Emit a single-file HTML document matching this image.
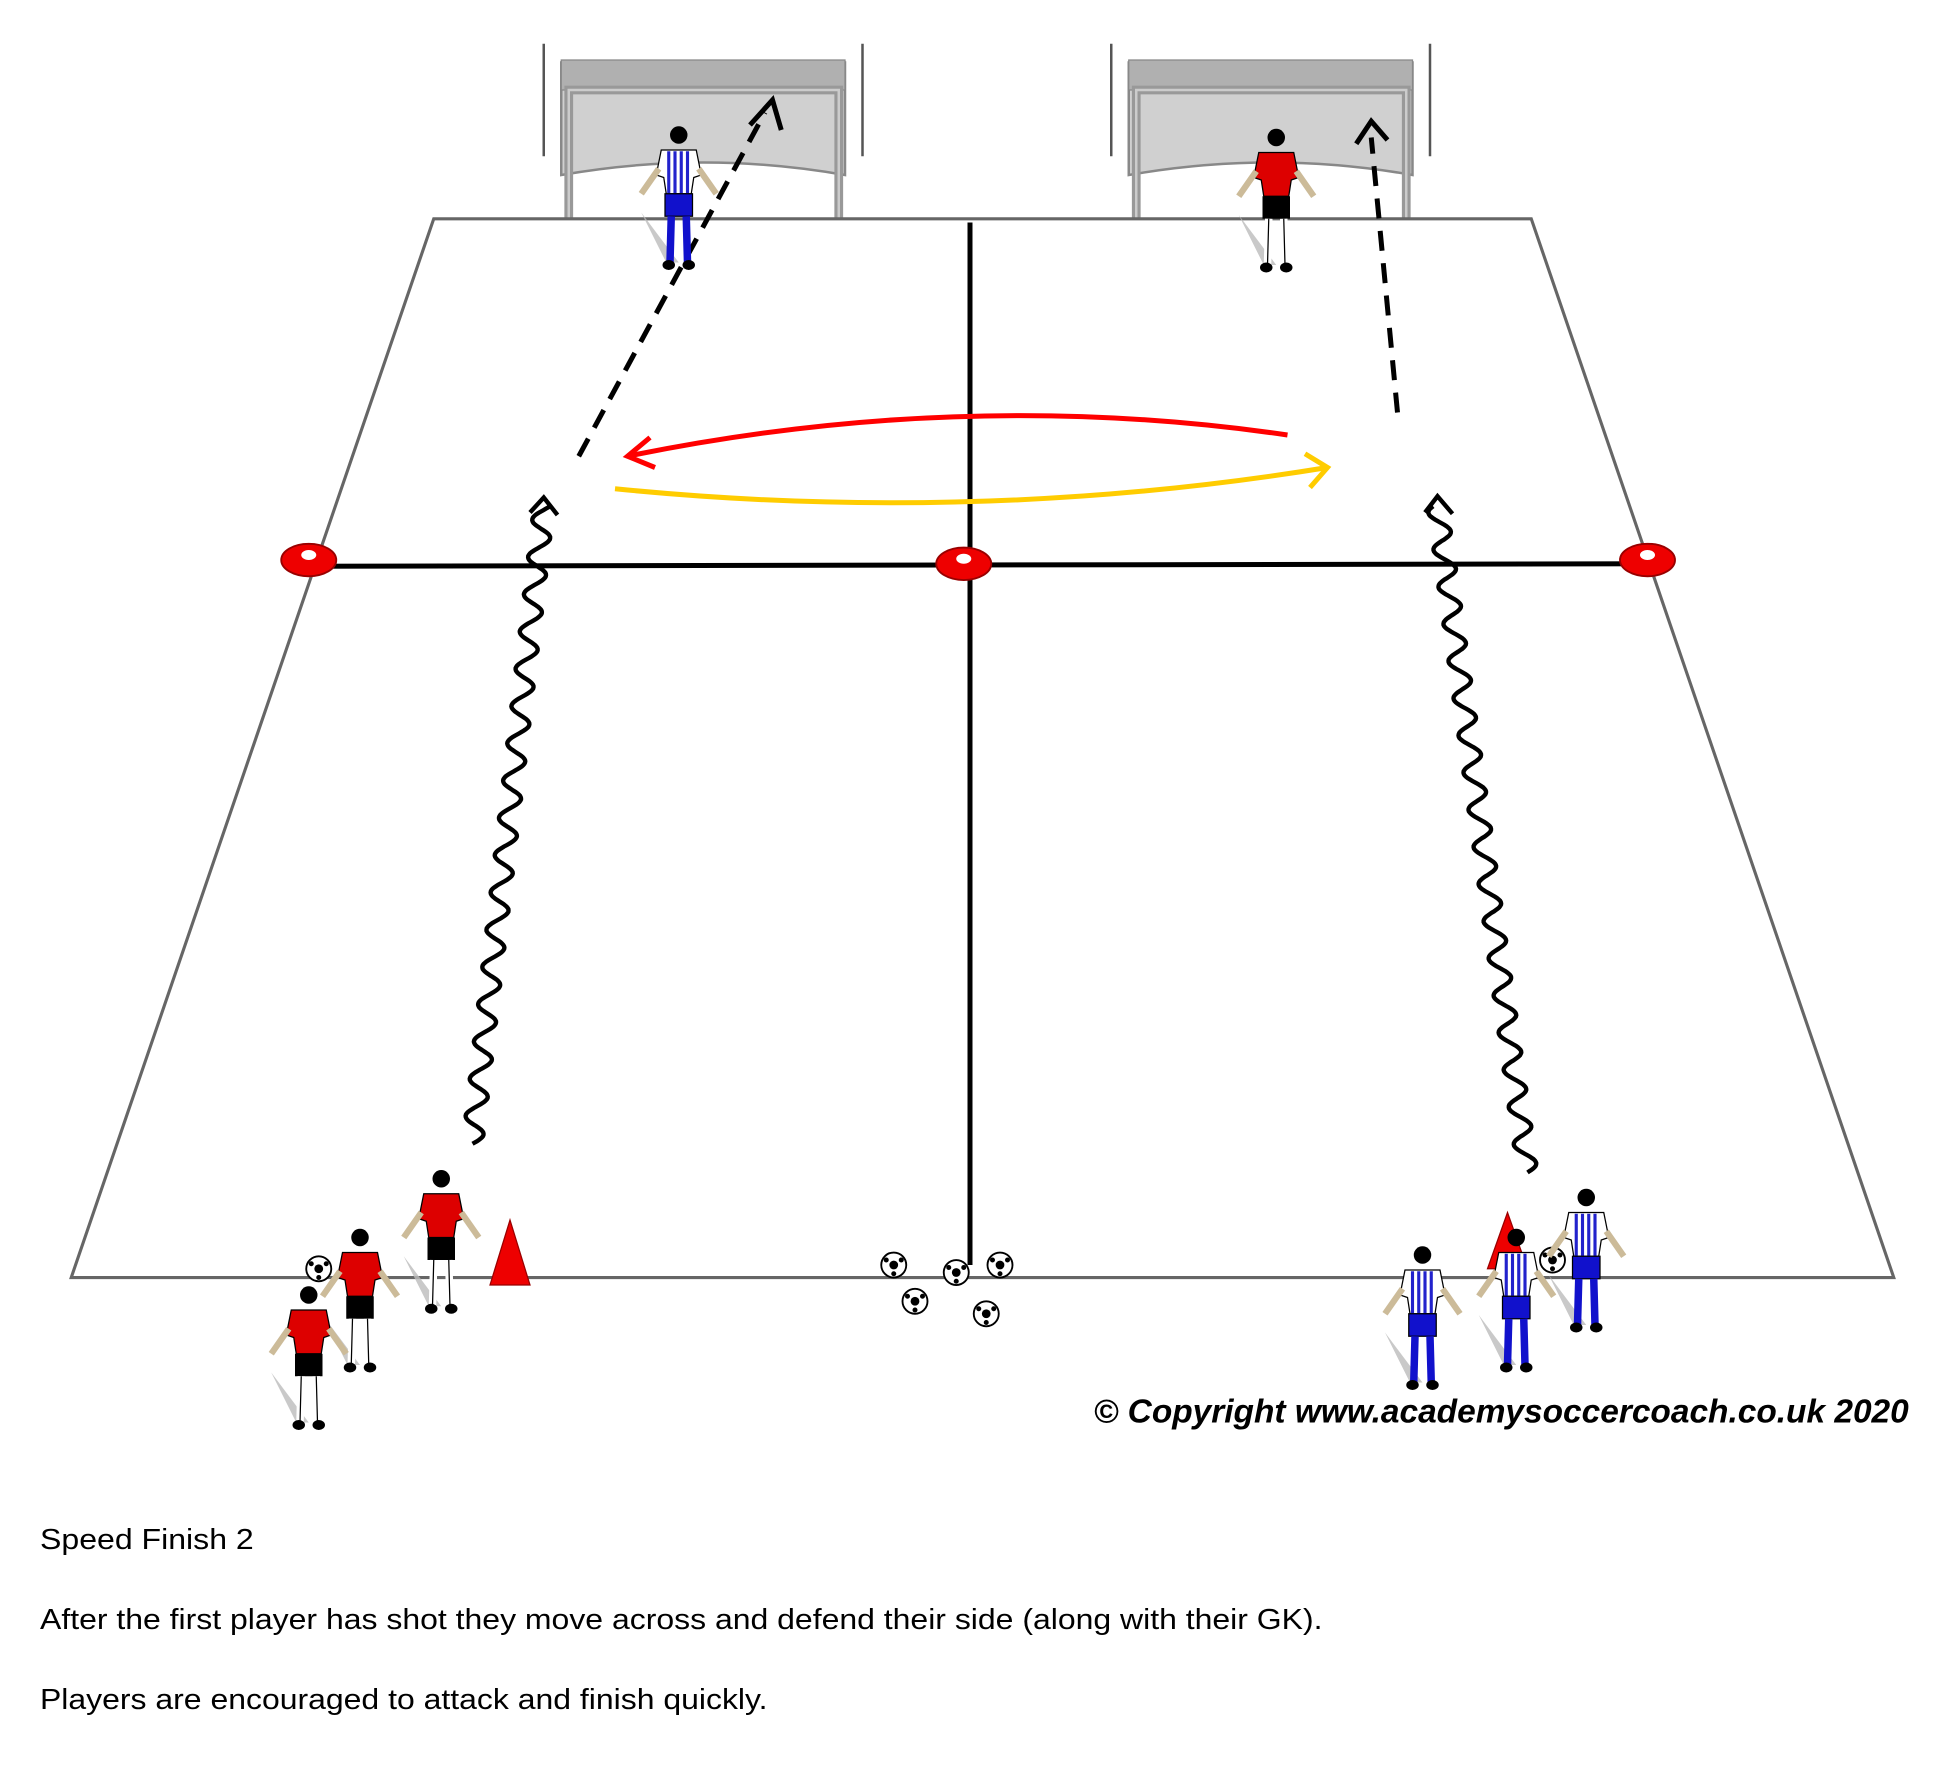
<!DOCTYPE html>
<html><head><meta charset="utf-8"><style>html,body{margin:0;padding:0;background:#fff}svg{display:block}</style></head>
<body>
<svg width="1960" height="1765" viewBox="0 0 1568 1412" xmlns="http://www.w3.org/2000/svg" font-family="Liberation Sans, sans-serif">
<defs>
<g id="goal">
 <path d="M0,35 L0,125 M255,35 L255,125" stroke="#555" stroke-width="2"/>
 <path d="M14,50 L241,50 L241,140 Q128,120 14,140 Z" fill="#d0d0d0" stroke="#888" stroke-width="2"/>
 <rect x="14" y="48" width="227" height="24" fill="#b0b0b0" stroke="#888"/>
 <path d="M20,175 L20,72 L236,72 L236,175" fill="none" stroke="#999" stroke-width="7"/>
 <path d="M20,175 L20,72 L236,72 L236,175" fill="none" stroke="#ccc" stroke-width="2"/>
</g>
<g id="ball"><circle r="10" fill="#fff" stroke="#000" stroke-width="1.5"/><circle r="3.5" fill="#000"/><circle cx="-6" cy="-4" r="2" fill="#000"/><circle cx="6" cy="-4" r="2" fill="#000"/><circle cx="0" cy="7" r="2" fill="#000"/></g>
<g id="red">
 <path d="M-30,60 L-10,100 L0,100 Z" fill="#bbb" opacity="0.8"/>
 <circle cx="0" cy="-2" r="7" fill="#000"/>
 <path d="M-14,10 L14,10 L18,30 L12,32 L10,45 L-10,45 L-12,32 L-18,30 Z" fill="#d00" stroke="#000"/>
 <path d="M-16,25 L-30,45 M16,25 L30,45" stroke="#cb9" stroke-width="5"/>
 <rect x="-11" y="45" width="22" height="18" fill="#000"/>
 <path d="M-6,63 L-7,100 M6,63 L7,100" stroke="#fff" stroke-width="6"/>
 <path d="M-6,63 L-7,100 M6,63 L7,100" stroke="#000" stroke-width="1"/>
 <ellipse cx="-8" cy="102" rx="5" ry="4" fill="#000"/><ellipse cx="8" cy="102" rx="5" ry="4" fill="#000"/>
</g>
<g id="blue">
 <path d="M-30,60 L-10,100 L0,100 Z" fill="#bbb" opacity="0.8"/>
 <circle cx="0" cy="-2" r="7" fill="#000"/>
 <path d="M-14,10 L14,10 L18,30 L12,32 L10,45 L-10,45 L-12,32 L-18,30 Z" fill="#fff" stroke="#000"/>
 <path d="M-8,11 V45 M-3,11 V45 M2,11 V45 M7,11 V45" stroke="#22c" stroke-width="2.5"/>
 <path d="M-16,25 L-30,45 M16,25 L30,45" stroke="#cb9" stroke-width="5"/>
 <rect x="-11" y="45" width="22" height="18" fill="#11c" stroke="#000"/>
 <path d="M-6,63 L-7,100 M6,63 L7,100" stroke="#11c" stroke-width="6"/>
 <ellipse cx="-8" cy="102" rx="5" ry="4" fill="#000"/><ellipse cx="8" cy="102" rx="5" ry="4" fill="#000"/>
</g>
</defs>

<use href="#goal" x="435" y="0"/>
<use href="#goal" x="889" y="0"/>

<polygon points="347,175 1225,175 1515,1022 57,1022" fill="#fff" stroke="#666" stroke-width="2.5"/>
<line x1="776" y1="178" x2="776" y2="1012" stroke="#000" stroke-width="4"/>
<line x1="247" y1="453" x2="1318" y2="451" stroke="#000" stroke-width="4"/>

<g fill="#e00" stroke="#900" stroke-width="1.5">
<ellipse cx="247" cy="448" rx="22" ry="13"/><ellipse cx="771" cy="451" rx="22" ry="13"/><ellipse cx="1318" cy="448" rx="22" ry="13"/>
</g>
<g fill="#fff"><ellipse cx="247" cy="444" rx="6" ry="4"/><ellipse cx="771" cy="447" rx="6" ry="4"/><ellipse cx="1318" cy="444" rx="6" ry="4"/></g>

<path d="M463,365 L612,90" stroke="#000" stroke-width="4" stroke-dasharray="16,10" fill="none"/>
<path d="M600,100 L618,80 L625,104" stroke="#000" stroke-width="4" fill="none"/>
<path d="M1118,330 L1097,110" stroke="#000" stroke-width="4" stroke-dasharray="16,10" fill="none"/>
<path d="M1085,115 L1097,97 L1110,112" stroke="#000" stroke-width="4" fill="none"/>

<path d="M1030,348 Q770,310 502,365" stroke="#f00" stroke-width="4" fill="none"/>
<path d="M520,350 L502,365 L524,374" stroke="#f00" stroke-width="4" fill="none"/>
<path d="M492,391 Q780,420 1062,374" stroke="#fc0" stroke-width="4" fill="none"/>
<path d="M1044,363 L1062,374 L1048,390" stroke="#fc0" stroke-width="4" fill="none"/>

<path d="M424,410 L435,398 L446,412 M1140,410 L1150,397 L1162,411" stroke="#000" stroke-width="3.5" fill="none"/>

<path d="M392,1028 L408,976 L424,1028 Z" fill="#e00" stroke="#900"/>
<path d="M1190,1015 L1206,970 L1222,1015 Z" fill="#e00" stroke="#900"/>

<use href="#ball" x="715" y="1012"/><use href="#ball" x="765" y="1018"/><use href="#ball" x="800" y="1012"/>
<use href="#ball" x="732" y="1041"/><use href="#ball" x="789" y="1051"/>
<use href="#ball" x="255" y="1015"/><use href="#ball" x="1242" y="1008"/>

<use href="#blue" x="543" y="110"/>
<use href="#red" x="1021" y="112"/>
<use href="#red" x="353" y="945"/>
<use href="#red" x="288" y="992"/>
<use href="#red" x="247" y="1038"/>
<use href="#blue" x="1269" y="960"/>
<use href="#blue" x="1213" y="992"/>
<use href="#blue" x="1138" y="1006"/>

<text x="875" y="1138" textLength="652" lengthAdjust="spacingAndGlyphs" font-size="27" font-weight="bold" font-style="italic" fill="#000">© Copyright www.academysoccercoach.co.uk 2020</text>
<text x="32" y="1239" textLength="171" lengthAdjust="spacingAndGlyphs" font-size="23" fill="#000">Speed Finish 2</text>
<text x="32" y="1303" textLength="1026" lengthAdjust="spacingAndGlyphs" font-size="23" fill="#000">After the first player has shot they move across and defend their side (along with their GK).</text>
<text x="32" y="1367" textLength="582" lengthAdjust="spacingAndGlyphs" font-size="23" fill="#000">Players are encouraged to attack and finish quickly.</text>

<script>
function wave(x1,y1,x2,y2){var d="M"+x1+","+y1,n=500,L=Math.hypot(x2-x1,y2-y1),per=30;for(var i=1;i<=n;i++){var t=i/n,x=x1+(x2-x1)*t,y=y1+(y2-y1)*t,o=Math.sin(t*L/per*2*Math.PI)*8;d+=" L"+(x+o).toFixed(1)+","+y.toFixed(1);}return d;}
var s=document.querySelector('svg');
[[378,915,435,405],[1222,938,1150,405]].forEach(function(a){var p=document.createElementNS("http://www.w3.org/2000/svg","path");p.setAttribute("d",wave(a[0],a[1],a[2],a[3]));p.setAttribute("fill","none");p.setAttribute("stroke","#000");p.setAttribute("stroke-width","3.5");s.appendChild(p);});
</script>
</svg>
</body></html>
